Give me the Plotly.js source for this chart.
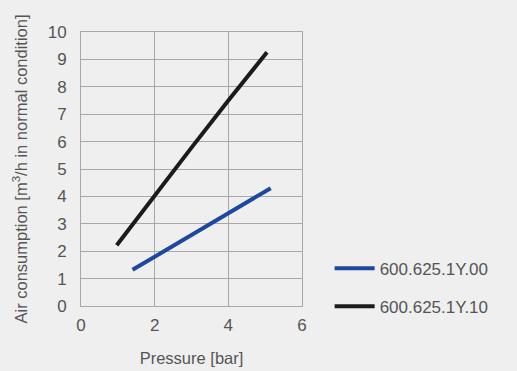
<!DOCTYPE html>
<html>
<head>
<meta charset="utf-8">
<script src="https://cdn.plot.ly/plotly-3.0.1.min.js"></script>
<style>html,body{margin:0;padding:0;background:#efefef;}</style>
</head>
<body>
<div id="chart" style="width:517px;height:371px;"></div>
<script>
const seriesNames = ["600.625.1Y.00", "600.625.1Y.10"];
const pressure00 = [1.4, 2, 3, 4, 5.15];
const air00 = [1.32, 1.8, 2.6, 3.4, 4.3];
const pressure10 = [0.97, 2, 3, 4, 5.05];
const air10 = [2.22, 4.05, 5.78, 7.5, 9.26];
const xTicks = [0, 2, 4, 6];
const yTicks = [0, 1, 2, 3, 4, 5, 6, 7, 8, 9, 10];

const font = {family: "Liberation Sans, Arial, sans-serif", color: "#555555"};
const traces = [
  {x: pressure00, y: air00, name: seriesNames[0], legendgroup: "a", mode: "lines", line: {color: "#1d48a0", width: 4}},
  {x: pressure10, y: air10, name: seriesNames[1], legendgroup: "b", mode: "lines", line: {color: "#1b1b1b", width: 4}}
];
const layout = {
  width: 517, height: 371,
  paper_bgcolor: "#efefef", plot_bgcolor: "#efefef",
  margin: {l: 81, r: 215, t: 32, b: 65},
  font: Object.assign({size: 16}, font),
  showlegend: true,
  legend: {x: 1.125, y: 0.202, xanchor: "left", yanchor: "top", bgcolor: "rgba(0,0,0,0)",
           font: Object.assign({size: 17}, font), traceorder: "grouped", tracegroupgap: 13, itemwidth: 40},
  xaxis: {range: [0, 6], tickvals: xTicks, showgrid: true, gridcolor: "#a8a8a8", gridwidth: 1,
          showline: true, linecolor: "#a8a8a8", mirror: true, zeroline: false,
          ticks: "outside", ticklen: 4, tickcolor: "rgba(0,0,0,0)",
          tickfont: Object.assign({size: 17}, font),
          title: {text: "Pressure [bar]", font: Object.assign({size: 16.5}, font), standoff: 18}},
  yaxis: {range: [0, 10], tickvals: yTicks, showgrid: true, gridcolor: "#a8a8a8", gridwidth: 1,
          showline: true, linecolor: "#a8a8a8", mirror: true, zeroline: false,
          ticks: "outside", ticklen: 10, tickcolor: "rgba(0,0,0,0)",
          tickfont: Object.assign({size: 17}, font),
          title: {text: "Air consumption [m<sup>3</sup>/h in normal condition]", font: Object.assign({size: 16.5}, font), standoff: 15}}
};
Plotly.newPlot("chart", traces, layout, {displayModeBar: false, staticPlot: true});
</script>
</body>
</html>
